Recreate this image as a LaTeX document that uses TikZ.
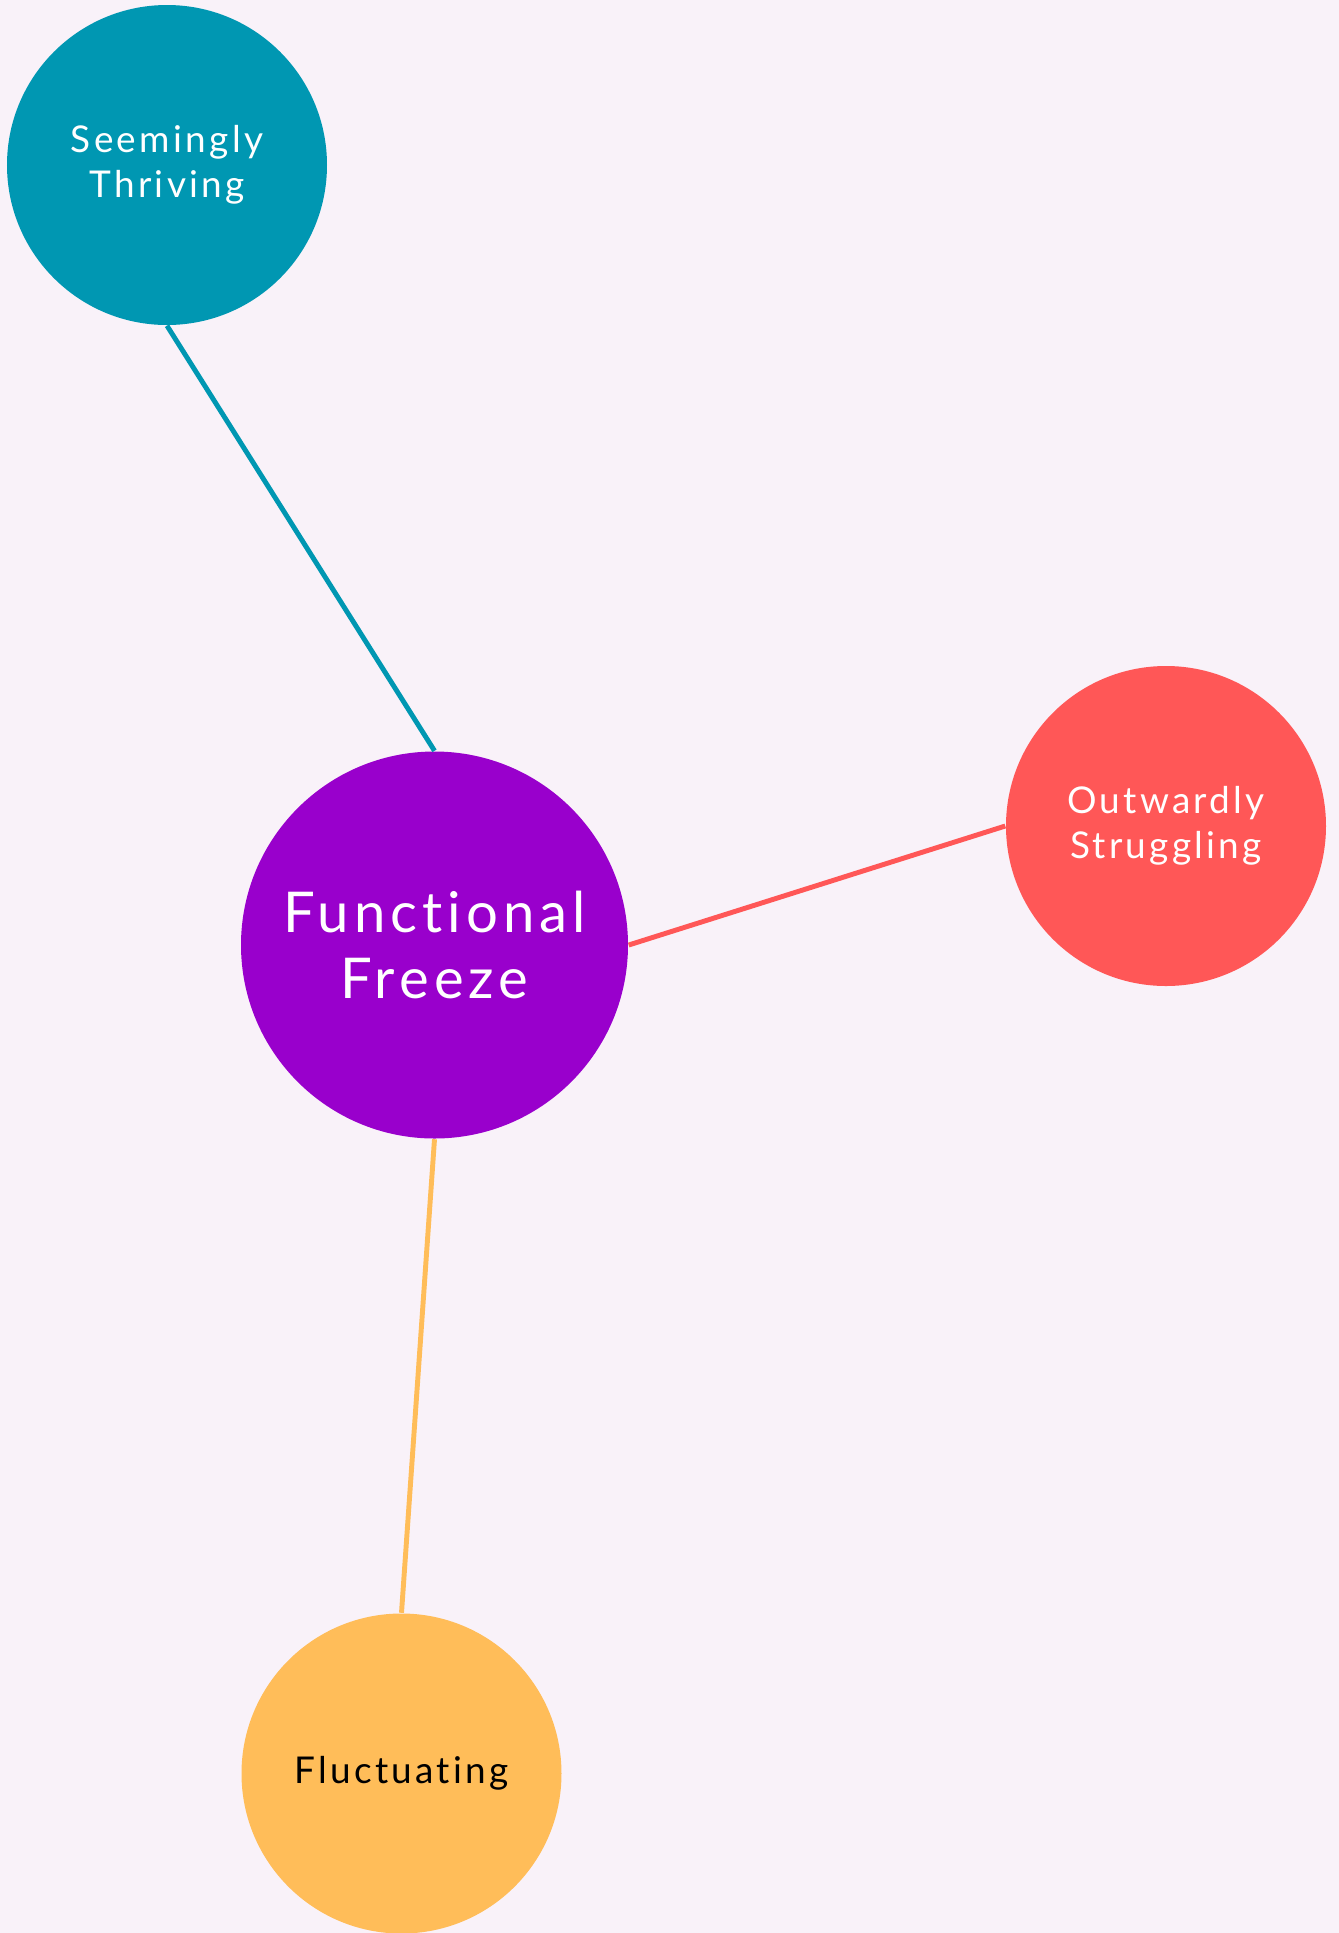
\documentclass[tikz,border=0pt]{standalone}
\usepackage{fontspec}
\setmainfont[LetterSpace=9, Ligatures={NoCommon,NoRequired,NoContextual}]{Lato}
\usetikzlibrary{positioning}
\definecolor{pagebg}{RGB}{249,242,249}
\definecolor{thrivteal}{RGB}{0,151,178}
\definecolor{freezepurple}{RGB}{153,0,204}
\definecolor{strugcoral}{RGB}{255,87,87}
\definecolor{flucorange}{RGB}{255,189,89}

\begin{document}
\begin{tikzpicture}[
  bubble/.style={circle, inner sep=0pt, minimum size=3.2cm, align=center,
    font=\fontsize{10.5}{12.8}\selectfont, text=white},
  bigbubble/.style={bubble, minimum size=3.87cm, font=\fontsize{16}{19}\selectfont},
  link/.style={line width=1.4pt}
]
\fill[pagebg] (0,0) rectangle (13.39,-19.33);
\useasboundingbox (0,0) rectangle (13.39,-19.33);

\node[bigbubble, fill=freezepurple] (freeze) at (4.345,-9.45) {Functional\\Freeze};
\node[bubble, fill=thrivteal] (thriving) at (1.67,-1.65) {Seemingly\\Thriving};
\node[bubble, fill=strugcoral] (struggling) at (11.66,-8.26) {Outwardly\\Struggling};
\node[bubble, fill=flucorange, text=black] (fluct) at (4.015,-17.735) {Fluctuating};

\draw[link, thrivteal] (thriving.south) -- (freeze.north);
\draw[link, strugcoral] (freeze.east) -- (struggling.west);
\draw[link, flucorange] (freeze.south) -- (fluct.north);
\end{tikzpicture}
\end{document}
